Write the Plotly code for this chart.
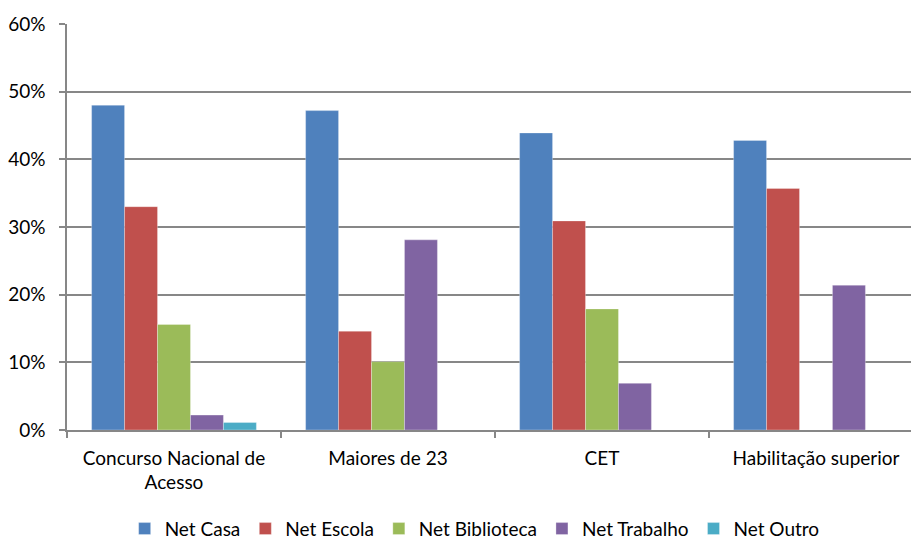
"""Acesso à net por tipo de ingresso."""

import plotly.graph_objects as go

categorias = ['Concurso Nacional de<br>Acesso', 'Maiores de 23', 'CET', 'Habilitação superior']

net_casa = [0.480, 0.472, 0.439, 0.428]
net_escola = [0.330, 0.146, 0.309, 0.357]
net_biblioteca = [0.156, 0.101, 0.179, 0.0]
net_trabalho = [0.022, 0.281, 0.069, 0.214]
net_outro = [0.011, 0.0, 0.0, 0.0]

series = [
    ('Net Casa', net_casa, '#4F81BD'),
    ('Net Escola', net_escola, '#C0504D'),
    ('Net Biblioteca', net_biblioteca, '#9BBB59'),
    ('Net Trabalho', net_trabalho, '#8064A2'),
    ('Net Outro', net_outro, '#4BACC6'),
]

FONTE = 'Lato, Calibri, sans-serif'
CINZA = '#878787'
TAM = 19

fig = go.Figure()
for nome, valores, cor in series:
    fig.add_trace(go.Bar(
        x=categorias,
        y=valores,
        name=nome,
        marker=dict(color=cor, line=dict(color='rgba(255,255,255,0.5)', width=0.6)),
    ))

fig.update_layout(
    width=911,
    height=543,
    barmode='group',
    bargap=0.23,
    bargroupgap=0,
    plot_bgcolor='white',
    paper_bgcolor='white',
    font=dict(family=FONTE, size=TAM, color='#000000'),
    margin=dict(l=67, r=0, t=24, b=113, autoexpand=False),
    legend=dict(
        orientation='h',
        x=0.483, xanchor='center',
        y=-0.29, yanchor='bottom',
        font=dict(size=TAM),
        itemwidth=30,
        traceorder='normal',
    ),
    showlegend=True,
)

fig.update_xaxes(
    range=[-0.5, 3.444],
    automargin=False,
    showline=True, linecolor=CINZA, linewidth=1.5,
    ticks='outside', tickson='boundaries', ticklen=6, tickcolor=CINZA, tickwidth=1.5,
    ticklabelstandoff=10,
    showgrid=False,
    tickfont=dict(size=TAM),
)
fig.update_yaxes(
    range=[0, 0.6],
    automargin=False,
    dtick=0.1,
    tickformat='.0%',
    showline=True, linecolor=CINZA, linewidth=1.5,
    ticks='outside', ticklen=6, tickcolor=CINZA, tickwidth=1.5,
    ticklabelstandoff=10,
    showgrid=True, gridcolor=CINZA, gridwidth=1.5,
    zeroline=False,
    tickfont=dict(size=TAM),
)

# a página tem margem de 8px por omissão no body
fig.write_html(
    "out.html",
    config={'displayModeBar': False},
    post_script="document.body.style.margin = '0';",
)
